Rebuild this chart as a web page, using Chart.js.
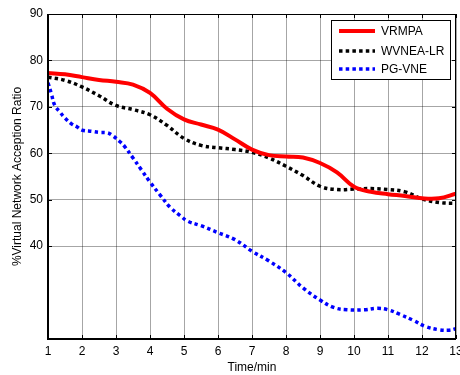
<!DOCTYPE html>
<html>
<head>
<meta charset="utf-8">
<script src="https://cdn.jsdelivr.net/npm/chart.js@4/dist/chart.umd.min.js"></script>
<style>
  html, body { margin: 0; padding: 0; background: #fff; }
  #wrap { width: 460px; height: 375px; position: relative; }
</style>
</head>
<body>
<div id="wrap"><canvas id="c" width="460" height="375"></canvas></div>
<script>
// ---- data ----
const seriesNames = ['VRMPA', 'WVNEA-LR', 'PG-VNE'];
const xHalf = [1,1.5,2,2.5,3,3.5,4,4.5,5,5.5,6,6.5,7,7.5,8,8.5,9,9.5,10,10.5,11,11.5,12,12.5,13];
const vrmpa = [77.3,77.0,76.4,75.8,75.4,74.8,73.0,69.6,67.3,66.2,65.1,63.0,60.8,59.6,59.3,59.1,57.9,55.9,52.8,51.7,51.2,50.8,50.3,50.3,51.3];
const wvnea = [76.4,75.7,74.3,72.4,70.3,69.4,68.3,66.0,63.2,61.7,61.2,60.8,60.2,59.0,57.2,55.2,52.9,52.2,52.3,52.4,52.2,51.7,50.2,49.4,49.2];
const xPg = [1,1.1,1.2,1.35,1.5,1.7,1.85,2,2.3,2.5,2.75,2.9,3.1,3.25,3.5,3.75,4,4.3,4.6,4.9,5.1,5.5,6,6.5,7,7.5,8,8.5,9,9.4,9.8,10.3,10.7,11,11.35,11.75,12.1,12.5,12.8,13];
const pgvne = [75.2,72.8,70.3,68.9,67.6,66.3,65.7,65.0,64.7,64.5,64.4,63.8,62.6,61.5,59.0,56.4,53.8,51.0,48.3,46.5,45.4,44.4,42.9,41.4,38.9,36.8,34.3,31.0,28.4,26.8,26.3,26.3,26.6,26.3,25.3,24.0,22.7,22.0,21.9,22.2];
const xTicks = [1,2,3,4,5,6,7,8,9,10,11,12,13];
const yTicks = [40,50,60,70,80,90];
const xTitle = 'Time/min';
const yTitle = '%Virtual Network Acception Ratio';

const pts = (xs, ys) => xs.map((x, i) => ({ x: x, y: ys[i] }));
const FONT = 'Arial, "Liberation Sans", sans-serif';

const frameAndLegend = {
  id: 'frameAndLegend',
  afterDatasetsDraw(chart) {
    const ctx = chart.ctx, a = chart.chartArea;
    ctx.save();
    ctx.strokeStyle = '#000';
    ctx.lineWidth = 1;
    ctx.beginPath();
    ctx.moveTo(a.left, a.top + 0.5); ctx.lineTo(a.right - 0.5, a.top + 0.5); ctx.lineTo(a.right - 0.5, a.bottom);
    ctx.stroke();
    ctx.lineWidth = 2;
    ctx.beginPath();
    ctx.moveTo(a.left, a.top); ctx.lineTo(a.left, a.bottom); ctx.lineTo(a.right, a.bottom);
    ctx.stroke();
    ctx.lineWidth = 1;
    const xs = chart.scales.x, ys = chart.scales.y;
    ctx.beginPath();
    xTicks.forEach(v => { const px = Math.round(xs.getPixelForValue(v)) + 0.5;
      ctx.moveTo(px, a.bottom); ctx.lineTo(px, a.bottom - 4);
      ctx.moveTo(px, a.top); ctx.lineTo(px, a.top + 4); });
    yTicks.forEach(v => { const py = Math.round(ys.getPixelForValue(v)) + 0.5;
      ctx.moveTo(a.left, py); ctx.lineTo(a.left + 4, py);
      ctx.moveTo(a.right, py); ctx.lineTo(a.right - 4, py); });
    ctx.stroke();
    const bx = 331.5, by = 20.5, bw = 119, bh = 59;
    ctx.fillStyle = '#fff';
    ctx.fillRect(bx, by, bw, bh);
    ctx.strokeStyle = '#000';
    ctx.lineWidth = 1;
    ctx.strokeRect(bx, by, bw, bh);
    const rows = [31, 51, 69];
    chart.data.datasets.forEach((ds, i) => {
      ctx.save();
      ctx.strokeStyle = ds.borderColor;
      ctx.lineWidth = ds.borderWidth;
      ctx.setLineDash(ds.borderDash || []);
      ctx.lineCap = 'butt';
      ctx.beginPath();
      ctx.moveTo(339, rows[i]); ctx.lineTo(375, rows[i]);
      ctx.stroke();
      ctx.restore();
      ctx.fillStyle = '#000';
      ctx.font = '12px ' + FONT;
      ctx.textBaseline = 'middle';
      ctx.textAlign = 'left';
      ctx.fillText(ds.label, 381, rows[i] + 1);
    });
    ctx.restore();
  }
};

new Chart(document.getElementById('c'), {
  type: 'line',
  data: {
    datasets: [
      { label: seriesNames[0], data: pts(xHalf, vrmpa), borderColor: '#ff0000', borderWidth: 4,
        pointRadius: 0, tension: 0.4, fill: false },
      { label: seriesNames[1], data: pts(xHalf, wvnea), borderColor: '#000000', borderWidth: 3.5,
        borderDash: [3.5, 3.2], pointRadius: 0, tension: 0.4, fill: false },
      { label: seriesNames[2], data: pts(xPg, pgvne), borderColor: '#0000ff', borderWidth: 3.5,
        borderDash: [3.5, 3.2], pointRadius: 0, tension: 0.4, fill: false }
    ]
  },
  options: {
    responsive: false,
    animation: false,
    events: [],
    layout: { padding: { top: 14, right: 4, left: 0, bottom: 0 } },
    plugins: { legend: { display: false }, tooltip: { enabled: false } },
    scales: {
      x: {
        type: 'linear', min: 1, max: 13,
        afterBuildTicks: s => { s.ticks = xTicks.map(v => ({ value: v })); },
        afterFit: s => { s.height = 36; s.paddingLeft = 0; s.paddingRight = 0; },
        ticks: { color: '#000', font: { family: FONT, size: 12 }, padding: 5, maxRotation: 0 },
        grid: { color: 'rgba(0,0,0,0.35)', lineWidth: 1, drawTicks: false },
        border: { display: false },
        title: { display: true, text: xTitle, color: '#000', font: { family: FONT, size: 12 }, padding: { top: 2, bottom: 0 } }
      },
      y: {
        type: 'linear', min: 20, max: 90,
        afterBuildTicks: s => { s.ticks = yTicks.map(v => ({ value: v })); },
        afterFit: s => { s.width = 48; },
        ticks: { color: '#000', font: { family: FONT, size: 12 }, padding: 5 },
        grid: { color: 'rgba(0,0,0,0.35)', lineWidth: 1, drawTicks: false },
        border: { display: false },
        title: { display: true, text: yTitle, color: '#000', font: { family: FONT, size: 12 }, padding: { top: 10, bottom: 0 } }
      }
    }
  },
  plugins: [frameAndLegend]
});
</script>
</body>
</html>
